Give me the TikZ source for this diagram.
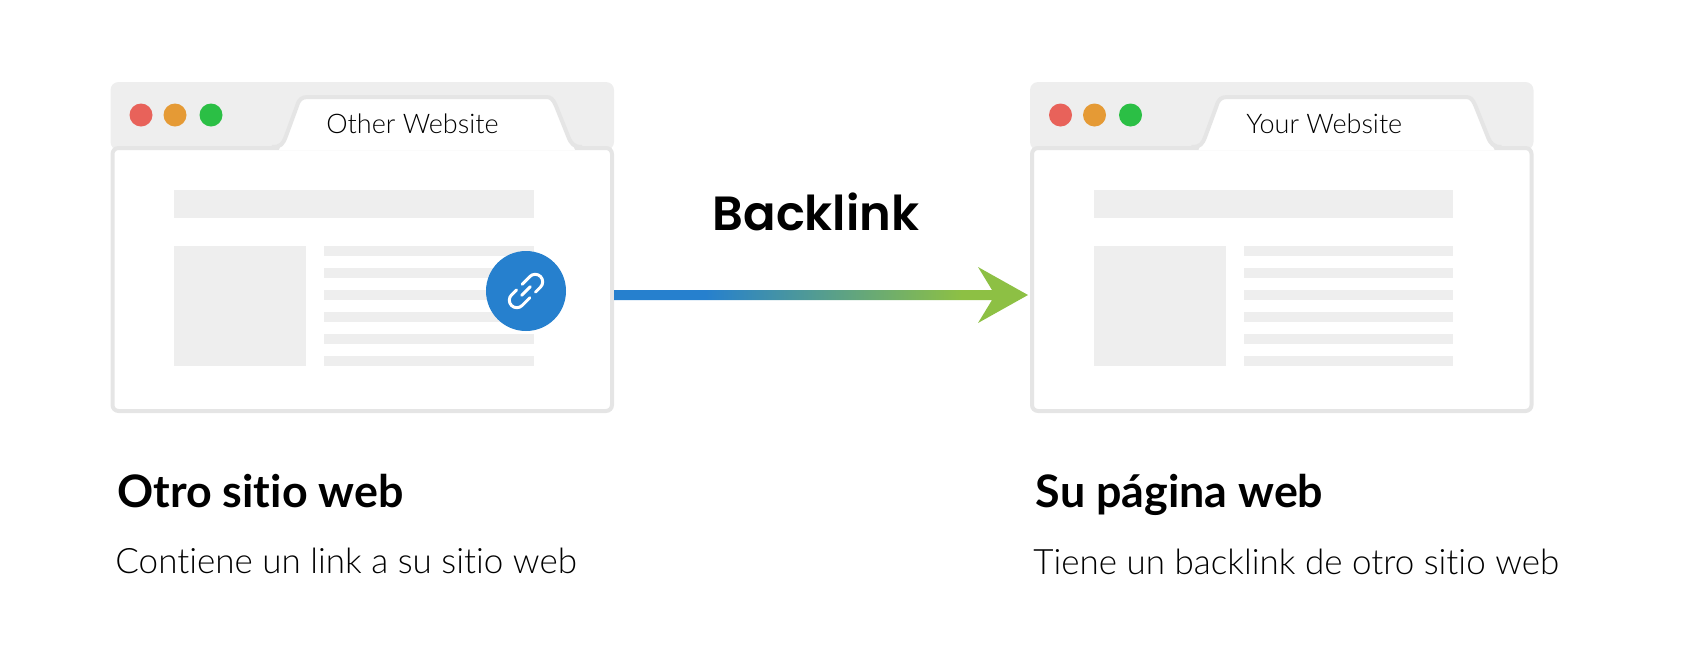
\documentclass[tikz,border=0pt]{standalone}
\usepackage{fontspec}
\setmainfont{Lato}[RawFeature=-liga]
\newfontfamily\lightfont{Lato Light}[RawFeature=-liga]
\newfontfamily\headfont{Poppins SemiBold}
\usetikzlibrary{calc}
\definecolor{PANEL}{HTML}{EEEEEE}
\definecolor{EDGE}{HTML}{E5E5E5}
\definecolor{DOTRED}{HTML}{E8625A}
\definecolor{DOTORANGE}{HTML}{E59A35}
\definecolor{DOTGREEN}{HTML}{2BBF45}
\definecolor{LINKBLUE}{HTML}{2680CE}
\definecolor{LINKGREEN}{HTML}{8DC044}
\pgfdeclarehorizontalshading{linkfade}{100bp}{color(0bp)=(LINKBLUE); color(36bp)=(LINKBLUE); color(67bp)=(LINKGREEN); color(100bp)=(LINKGREEN)}
\tikzset{
    winbody/.style={draw=EDGE, line width=2pt, fill=white, rounded corners=3pt, minimum width=249.75pt, minimum height=131.5pt, inner sep=0pt},
    wintitle/.style={anchor=base west, inner sep=0pt, text=black, font=\lightfont\fontsize{13.5pt}{15pt}\selectfont},
    headline/.style={anchor=base west, inner sep=0pt, font=\fontsize{22.4pt}{25pt}\selectfont\bfseries},
    subline/.style={anchor=base west, inner sep=0pt, font=\lightfont\fontsize{17.5pt}{21pt}\selectfont},
    linkbadge/.style={circle, fill=LINKBLUE, minimum size=40pt, inner sep=0pt}
}
\begin{document}
\begin{tikzpicture}[x=0.5pt, y=-0.5pt]
\useasboundingbox (0,0) rectangle (1686,670);
\foreach \shift/\winname/\wintext/\textx in {0/otherwin/Other Website/326, 919.5/yourwin/Your Website/326.5}
{
    \begin{scope}[xshift=\shift*0.5pt]
    \fill[PANEL, rounded corners=4pt] (110.5,150) -- (110.5,82) -- (614,82) -- (614,150) -- cycle; % header
    \node[winbody] (\winname) at (362.25,279.5) {};
    \fill[white] (279,150) -- (301,98) -- (551,98) -- (575,150) -- cycle; % tab
    \draw[EDGE, line width=2pt, line join=round] (272,147) .. controls (281,147) and (283,144) .. (286,136) -- (297,106) .. controls (299,99) and (302,97) .. (308,97) -- (546,97) .. controls (551,97) and (553,99) .. (556,106) -- (568,136) .. controls (571,144) and (574,147) .. (582,147);
    \fill[DOTRED] (141,115) circle (11.5);
    \fill[DOTORANGE] (175,115) circle (11.5);
    \fill[DOTGREEN] (211,115) circle (11.5);
    \node[wintitle] (\winname title) at (\textx,133) {\wintext};
    \fill[PANEL] (174,190) rectangle (533.5,218);
    \fill[PANEL] (174,246) rectangle (306,366);
    \foreach \liney in {246,268,290,312,334,356}
        \fill[PANEL] (324,\liney) rectangle (533.5,\liney+10);
    \end{scope}
}
\node[linkbadge] (linkicon) at (526,291) {};
\begin{scope}[shift={(linkicon.center)}, x=0.5pt, y=0.5pt, rotate=45, white, line width=1.5pt, line cap=round]
    \draw (2,7.5) -- (13,7.5) arc (90:-90:7.5) -- (6,-7.5);
    \draw (-2,-7.5) -- (-13,-7.5) arc (270:90:7.5) -- (-6,7.5);
    \draw (-6,0) -- (6,0);
\end{scope}
\node[anchor=base, inner sep=0pt, font=\headfont\fontsize{24pt}{28pt}\selectfont] (backlink) at (816,230) {Backlink};
\coordinate (arrowlevel) at (0,295);
\coordinate (linkfrom) at (otherwin.east |- arrowlevel);
\coordinate (linkto) at ($(yourwin.west |- arrowlevel)+(-2,0)$);
\shade[shading=linkfade] ($(linkfrom)+(0,-5)$) -- ($(linkto)+(-36,-5)$) -- ($(linkto)+(-50,-28)$) -- (linkto) -- ($(linkto)+(-50,28)$) -- ($(linkto)+(-36,5)$) -- ($(linkfrom)+(0,5)$) -- cycle; % gradient arrow
\node[headline] (otherhead) at (117,507.5) {Otro sitio web};
\node[subline] (othersub) at (115,573) {Contiene un link a su sitio web};
\node[headline] (yourhead) at (1035.5,507.5) {Su página web};
\node[subline] (yoursub) at (1033,574) {Tiene un backlink de otro sitio web};
\end{tikzpicture}
\end{document}
